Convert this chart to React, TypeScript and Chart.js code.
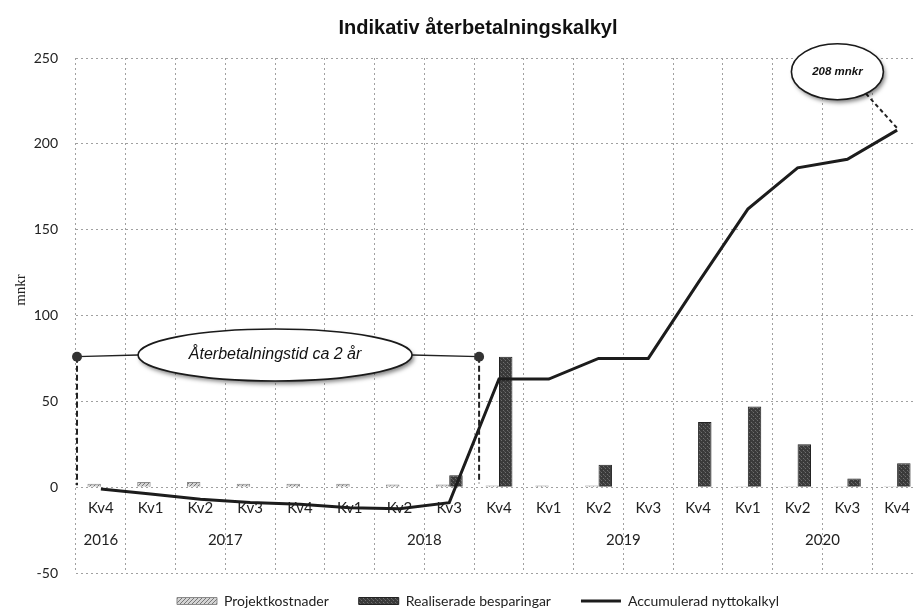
import React, { useEffect, useRef } from "react";
import { Chart, registerables } from "chart.js";

Chart.register(...registerables);

const quarters = ["Kv4", "Kv1", "Kv2", "Kv3", "Kv4", "Kv1", "Kv2", "Kv3", "Kv4", "Kv1", "Kv2", "Kv3", "Kv4", "Kv1", "Kv2", "Kv3", "Kv4"];
const years = ["2016", "2017", "2017", "2017", "2017", "2018", "2018", "2018", "2018", "2019", "2019", "2019", "2019", "2020", "2020", "2020", "2020"];
const projektkostnader = [2, 3, 3, 2, 2, 2, 1.5, 1.5, 1, 1, 1, 0, 0, 0.5, 0.5, 0.5, 0.5];
const realiseradeBesparingar = [0, 0, 0, 0, 0, 0, 0, 7, 76, 0, 13, 0, 38, 47, 25, 5, 14];
const accumuleradNyttokalkyl = [-1, -4, -7, -9, -10, -12, -12.5, -9, 63, 63, 75, 75, 119, 162, 186, 191, 208];
const yMin = -50;
const yMax = 250;
const yStep = 50;
const paybackText = "Återbetalningstid ca 2 år";
const paybackLevel = 76;
const unit = "mnkr";

const W = 922;
const H = 627;

function makeSpeckle(): CanvasPattern | string {
  const c = document.createElement("canvas");
  c.width = 4;
  c.height = 4;
  const g = c.getContext("2d");
  if (!g) return "#3d3d3d";
  g.fillStyle = "#3a3a3a";
  g.fillRect(0, 0, 4, 4);
  g.fillStyle = "#6e6e6e";
  g.fillRect(1, 0, 1, 1);
  g.fillRect(3, 2, 1, 1);
  g.fillStyle = "#555";
  g.fillRect(0, 3, 1, 1);
  return g.createPattern(c, "repeat") || "#3d3d3d";
}

function makeHatch(): CanvasPattern | string {
  const c = document.createElement("canvas");
  c.width = 4;
  c.height = 4;
  const g = c.getContext("2d");
  if (!g) return "#ccc";
  g.fillStyle = "#d4d4d4";
  g.fillRect(0, 0, 4, 4);
  g.fillStyle = "#777";
  for (let i = 0; i < 4; i++) g.fillRect(i, 3 - i, 1, 1);
  return g.createPattern(c, "repeat") || "#ccc";
}

export default function App() {
  const ref = useRef<HTMLCanvasElement>(null);

  useEffect(() => {
    const canvas = ref.current;
    if (!canvas) return;
    const speck = makeSpeckle();
    const hatch = makeHatch();

    const drawEllipse = (ctx: CanvasRenderingContext2D, cx: number, cy: number, rx: number, ry: number) => {
      ctx.save();
      ctx.shadowColor = "rgba(0,0,0,0.5)";
      ctx.shadowBlur = 4;
      ctx.shadowOffsetX = 2;
      ctx.shadowOffsetY = 3;
      ctx.beginPath();
      ctx.ellipse(cx, cy, rx, ry, 0, 0, Math.PI * 2);
      ctx.fillStyle = "#fff";
      ctx.fill();
      ctx.restore();
      ctx.save();
      ctx.beginPath();
      ctx.ellipse(cx, cy, rx, ry, 0, 0, Math.PI * 2);
      ctx.strokeStyle = "#1a1a1a";
      ctx.lineWidth = 1.6;
      ctx.stroke();
      ctx.restore();
    };

    const overlay = {
      id: "overlay",
      beforeDatasetsDraw(chart: any) {
        const { ctx, scales } = chart;
        const x = scales.x;
        const y = scales.y;
        const y0 = y.getPixelForValue(0);
        ctx.save();
        ctx.fillStyle = "#222";
        ctx.font = "15px Lato";
        ctx.textAlign = "center";
        ctx.textBaseline = "middle";
        quarters.forEach((q, i) => ctx.fillText(q, x.getPixelForValue(i), y0 + 21));
        const groups: Record<string, number[]> = {};
        years.forEach((yr, i) => {
          (groups[yr] = groups[yr] || []).push(x.getPixelForValue(i));
        });
        Object.keys(groups).forEach((yr) => {
          const xs = groups[yr];
          const cx = xs.reduce((a, b) => a + b, 0) / xs.length;
          ctx.fillText(yr, cx, y0 + 53);
        });
        ctx.restore();
      },
      afterDatasetsDraw(chart: any) {
        const { ctx, scales, chartArea } = chart;
        const x = scales.x;
        const y = scales.y;
        const x0 = x.getPixelForValue(0);
        const step = x.getPixelForValue(1) - x0;
        const px = (idx: number) => x0 + idx * step;
        const y0 = y.getPixelForValue(0);

        // payback annotation
        const ly = y.getPixelForValue(paybackLevel);
        const lx = chartArea.left + 1;
        const rx = px(7.6);
        const ecx = px(3.5);
        const ecy = y.getPixelForValue(paybackLevel + 1);
        const erx = 137;
        const ery = 26;
        ctx.save();
        ctx.strokeStyle = "#222";
        ctx.lineWidth = 2;
        ctx.setLineDash([6, 3]);
        ctx.beginPath();
        ctx.moveTo(lx, ly);
        ctx.lineTo(lx, y0 - 2);
        ctx.moveTo(rx, ly);
        ctx.lineTo(rx, y0 - 4);
        ctx.stroke();
        ctx.setLineDash([]);
        ctx.lineWidth = 1.3;
        ctx.beginPath();
        ctx.moveTo(lx, ly);
        ctx.lineTo(ecx - erx, ecy);
        ctx.moveTo(ecx + erx, ecy);
        ctx.lineTo(rx, ly);
        ctx.stroke();
        ctx.fillStyle = "#333";
        [lx, rx].forEach((dx) => {
          ctx.beginPath();
          ctx.arc(dx, ly, 5, 0, Math.PI * 2);
          ctx.fill();
        });
        ctx.restore();
        drawEllipse(ctx, ecx, ecy, erx, ery);
        ctx.save();
        ctx.fillStyle = "#111";
        ctx.font = "italic 16px 'Liberation Sans'";
        ctx.textAlign = "center";
        ctx.textBaseline = "middle";
        ctx.fillText(paybackText, ecx, ecy);
        ctx.restore();

        // final value annotation
        const last = accumuleradNyttokalkyl.length - 1;
        const fx = px(last);
        const fy = y.getPixelForValue(accumuleradNyttokalkyl[last]);
        const bcx = px(14.8);
        const bcy = y.getPixelForValue(242);
        const brx = 46;
        const bry = 28;
        const ang = 0.9;
        ctx.save();
        ctx.strokeStyle = "#222";
        ctx.lineWidth = 2;
        ctx.setLineDash([4, 3]);
        ctx.beginPath();
        ctx.moveTo(bcx + brx * Math.cos(ang), bcy + bry * Math.sin(ang));
        ctx.lineTo(fx, fy - 2);
        ctx.stroke();
        ctx.restore();
        drawEllipse(ctx, bcx, bcy, brx, bry);
        ctx.save();
        ctx.fillStyle = "#111";
        ctx.font = "italic bold 11.5px 'Liberation Sans'";
        ctx.textAlign = "center";
        ctx.textBaseline = "middle";
        ctx.fillText(`${accumuleradNyttokalkyl[last]} ${unit}`, bcx, bcy);
        ctx.restore();
      },
      afterDraw(chart: any) {
        const { ctx } = chart;
        ctx.save();
        ctx.translate(21, 290);
        ctx.rotate(-Math.PI / 2);
        ctx.fillStyle = "#222";
        ctx.font = "15px 'Liberation Serif'";
        ctx.textAlign = "center";
        ctx.textBaseline = "middle";
        ctx.fillText(unit, 0, 0);
        ctx.restore();
      },
    };

    const chart = new Chart(canvas, {
      type: "bar",
      data: {
        labels: quarters,
        datasets: [
          {
            type: "bar",
            label: "Projektkostnader",
            data: projektkostnader,
            backgroundColor: hatch as any,
            borderColor: "#8a8a8a",
            borderWidth: 1,
            pointStyle: "rect",
            categoryPercentage: 0.54,
            barPercentage: 1,
            order: 1,
          },
          {
            type: "bar",
            label: "Realiserade besparingar",
            data: realiseradeBesparingar,
            backgroundColor: speck as any,
            borderColor: "#222",
            borderWidth: 1,
            pointStyle: "rect",
            categoryPercentage: 0.54,
            barPercentage: 1,
            order: 1,
          },
          {
            type: "line",
            label: "Accumulerad nyttokalkyl",
            data: accumuleradNyttokalkyl,
            borderColor: "#1c1c1c",
            backgroundColor: "#1c1c1c",
            borderWidth: 3,
            pointRadius: 0,
            pointStyle: "line",
            tension: 0,
            order: -1,
          } as any,
        ],
      },
      options: {
        responsive: false,
        animation: false,
        layout: { padding: { left: 34, right: 0, top: 0, bottom: 0 } },
        plugins: {
          title: {
            display: true,
            text: "Indikativ återbetalningskalkyl",
            color: "#111",
            font: { family: "'Liberation Sans'", size: 20, weight: "bold" },
            padding: { top: 16, bottom: 18 },
          },
          legend: {
            position: "bottom",
            labels: {
              usePointStyle: true,
              pointStyleWidth: 40,
              boxHeight: 7,
              padding: 30,
              color: "#222",
              font: { family: "Lato", size: 14 },
              sort: (a: any, b: any) => a.datasetIndex - b.datasetIndex,
            },
          },
          tooltip: { enabled: false },
        },
        scales: {
          x: {
            grid: { color: "#a0a0a0", lineWidth: 1, drawTicks: false, offset: true },
            border: { display: false, dash: [2, 3] },
            ticks: { display: false },
            afterFit: (s: any) => {
              s.height = -9;
            },
          },
          y: {
            min: yMin,
            max: yMax,
            ticks: { stepSize: yStep, padding: 18, color: "#222", font: { family: "Lato", size: 14 } },
            grid: { color: "#a0a0a0", lineWidth: 1, drawTicks: false },
            border: { display: false, dash: [2, 3] },
            afterFit: (s: any) => {
              s.width = 42;
            },
          },
        },
      },
      plugins: [overlay],
    });
    return () => chart.destroy();
  }, []);

  return (
    <div style={{ position: "absolute", left: 0, top: 0, width: 914, height: 610, overflow: "hidden", background: "#fff" }}>
      <canvas ref={ref} width={W} height={H} style={{ display: "block", width: W, height: H }} />
    </div>
  );
}
